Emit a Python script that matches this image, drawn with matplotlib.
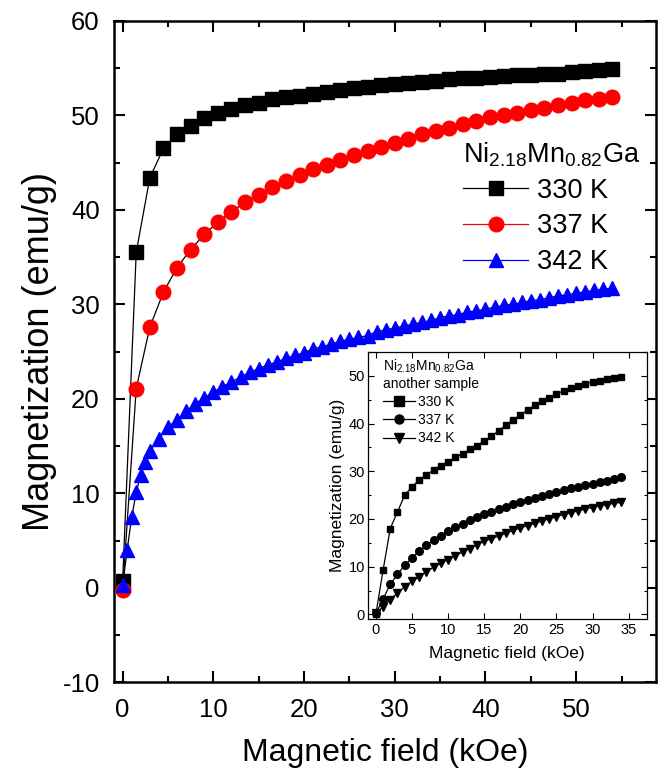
import matplotlib
matplotlib.use('Agg')
import matplotlib.pyplot as plt
from matplotlib.lines import Line2D
from matplotlib.ticker import MultipleLocator

plt.rcParams['font.family'] = ['Liberation Sans', 'DejaVu Sans']
plt.rcParams['mathtext.fontset'] = 'custom'
plt.rcParams['mathtext.rm'] = 'Liberation Sans'
plt.rcParams['mathtext.default'] = 'regular'
plt.rcParams['axes.unicode_minus'] = False

# main panel: Ni2.18Mn0.82Ga
h_main = [0, 1.5, 3, 4.5, 6, 7.5, 9, 10.5, 12, 13.5, 15, 16.5, 18, 19.5, 21, 22.5,
          24, 25.5, 27, 28.5, 30, 31.5, 33, 34.5, 36, 37.5, 39, 40.5, 42, 43.5,
          45, 46.5, 48, 49.5, 51, 52.5, 54]
m_330 = [0.7, 35.5, 43.4, 46.5, 48.0, 48.9, 49.7, 50.2, 50.7, 51.1, 51.3, 51.7,
         51.9, 52.1, 52.3, 52.5, 52.7, 52.9, 53.0, 53.2, 53.3, 53.4, 53.5, 53.6,
         53.8, 53.9, 54.0, 54.1, 54.2, 54.3, 54.3, 54.4, 54.4, 54.6, 54.7, 54.8, 54.9]
m_337 = [-0.25, 21.1, 27.6, 31.3, 33.9, 35.8, 37.4, 38.7, 39.8, 40.8, 41.6, 42.4,
         43.1, 43.7, 44.3, 44.8, 45.3, 45.8, 46.2, 46.7, 47.1, 47.5, 48.0, 48.3,
         48.7, 49.1, 49.4, 49.8, 50.0, 50.3, 50.6, 50.8, 51.1, 51.3, 51.6, 51.7, 51.9]
h_342 = [0, 0.5, 1, 1.5, 2, 2.5, 3, 4, 5, 6, 7, 8, 9, 10, 11, 12, 13, 14, 15, 16, 17,
         18, 19, 20, 21, 22, 23, 24, 25, 26, 27, 28, 29, 30, 31, 32, 33, 34, 35, 36,
         37, 38, 39, 40, 41, 42, 43, 44, 45, 46, 47, 48, 49, 50, 51, 52, 53, 54]
m_342 = [0.3, 4.0, 7.5, 10.1, 12.0, 13.3, 14.5, 15.8, 17.0, 17.8, 18.7, 19.5, 20.1,
         20.7, 21.3, 21.8, 22.3, 22.8, 23.2, 23.6, 23.9, 24.3, 24.6, 24.9, 25.3, 25.5,
         25.8, 26.1, 26.3, 26.5, 26.7, 27.1, 27.3, 27.5, 27.7, 27.9, 28.1, 28.3, 28.6,
         28.8, 28.9, 29.2, 29.3, 29.5, 29.7, 29.9, 30.0, 30.2, 30.4, 30.5, 30.7, 30.9,
         31.0, 31.2, 31.3, 31.5, 31.6, 31.7]

# inset: another sample
h_ins = [0, 1, 2, 3, 4, 5, 6, 7, 8, 9, 10, 11, 12, 13, 14, 15, 16, 17, 18, 19, 20,
         21, 22, 23, 24, 25, 26, 27, 28, 29, 30, 31, 32, 33, 34]
i_330 = [0.0, 9.2, 18.0, 21.5, 25.0, 26.7, 28.2, 29.2, 30.3, 31.2, 32.0, 32.9, 33.7,
         34.6, 35.4, 36.4, 37.3, 38.5, 39.7, 40.8, 41.8, 42.9, 43.8, 44.7, 45.4,
         46.2, 46.9, 47.4, 47.9, 48.4, 48.7, 49.0, 49.3, 49.5, 49.8]
i_337 = [0.2, 3.2, 6.3, 8.4, 10.3, 11.8, 13.3, 14.5, 15.6, 16.5, 17.5, 18.3, 19.0,
         19.7, 20.4, 21.0, 21.5, 22.1, 22.6, 23.1, 23.6, 24.0, 24.5, 24.9, 25.2,
         25.7, 26.0, 26.4, 26.7, 27.1, 27.3, 27.7, 28.0, 28.3, 28.7]
i_342 = [0.2, 1.6, 3.1, 4.5, 5.8, 6.9, 7.9, 8.9, 9.9, 10.7, 11.5, 12.3, 13.1, 13.8,
         14.6, 15.3, 15.9, 16.4, 17.0, 17.6, 18.1, 18.6, 19.1, 19.6, 20.0, 20.5,
         20.9, 21.3, 21.7, 22.1, 22.4, 22.8, 23.0, 23.3, 23.5]

labels = ['330 K', '337 K', '342 K']

fig = plt.figure(figsize=(6.64, 7.72), dpi=100)
ax = fig.add_axes([0.171, 0.116, 0.817, 0.857])

series = [(h_main, m_330, 's', 'black', 9.5),
          (h_main, m_337, 'o', 'red', 10.5),
          (h_342, m_342, '^', 'blue', 10.5)]
handles = []
for (x, y, mk, col, ms), lab in zip(series, labels):
    # connecting lines are black, markers coloured
    ax.plot(x, y, '-', color='black', lw=0.9, zorder=2)
    ax.plot(x, y, mk, color=col, ms=ms, mec=col, zorder=3)
    handles.append(Line2D([], [], color=col, lw=0.9, marker=mk, ms=ms, mec=col,
                          label=lab))

ax.set_xlim(-1, 58.8)
ax.set_ylim(-10, 60)
ax.xaxis.set_major_locator(MultipleLocator(10))
ax.xaxis.set_minor_locator(MultipleLocator(5))
ax.yaxis.set_major_locator(MultipleLocator(10))
ax.yaxis.set_minor_locator(MultipleLocator(5))
ax.tick_params(which='both', direction='in', top=True, right=True, width=1.5)
ax.tick_params(which='major', length=8, labelsize=18.5)
ax.tick_params(axis='x', which='major', pad=11)
ax.tick_params(axis='y', which='major', pad=10)
ax.tick_params(which='minor', length=4)
for s in ax.spines.values():
    s.set_linewidth(1.8)
ax.set_xlabel('Magnetic field (kOe)', fontsize=23, labelpad=12)
ax.set_ylabel('Magnetization (emu/g)', fontsize=26, labelpad=4)

ax.text(0.645, 0.786, r'Ni$_{2.18}$Mn$_{0.82}$Ga', transform=ax.transAxes,
        fontsize=19.5, ha='left', va='baseline')
ax.legend(handles=handles, loc='upper left', bbox_to_anchor=(0.645, 0.763),
          frameon=False, fontsize=19.5, handlelength=2.4, handletextpad=0.3,
          labelspacing=0.36, borderpad=0, borderaxespad=0)

# inset
ins = fig.add_axes([0.554, 0.198, 0.420, 0.346])
ins_series = [(i_330, 's', 5), (i_337, 'o', 5.5), (i_342, 'v', 5.5)]
ins_handles = []
for (y, mk, ms), lab in zip(ins_series, labels):
    ins.plot(h_ins, y, '-', color='black', lw=0.9, marker=mk, ms=ms)
    ins_handles.append(Line2D([], [], color='black', lw=0.9, marker=mk, ms=6.5,
                              label=lab))
ins.set_xlim(-1.1, 37.5)
ins.set_ylim(-1, 55)
ins.xaxis.set_major_locator(MultipleLocator(5))
ins.yaxis.set_major_locator(MultipleLocator(10))
ins.yaxis.set_minor_locator(MultipleLocator(5))
ins.tick_params(which='both', direction='in', top=True, right=True, width=0.8)
ins.tick_params(which='major', length=4, labelsize=10.5)
ins.tick_params(axis='x', which='major', pad=3)
ins.tick_params(axis='y', which='major', pad=2)
ins.tick_params(which='minor', length=2)
for s in ins.spines.values():
    s.set_linewidth(0.9)
ins.set_xlabel('Magnetic field (kOe)', fontsize=12.5, labelpad=6)
ins.set_ylabel('Magnetization (emu/g)', fontsize=12.5, labelpad=3)
ileg = ins.legend(handles=ins_handles,
                  title='Ni$_{2.18}$Mn$_{0.82}$Ga\nanother sample', loc='upper left',
                  bbox_to_anchor=(0.055, 0.98), frameon=False, fontsize=10,
                  title_fontsize=10, handlelength=2.3, handletextpad=0.2,
                  labelspacing=0.3, borderpad=0, borderaxespad=0)
ileg._legend_box.align = 'left'

fig.savefig('out.png', dpi=100)
